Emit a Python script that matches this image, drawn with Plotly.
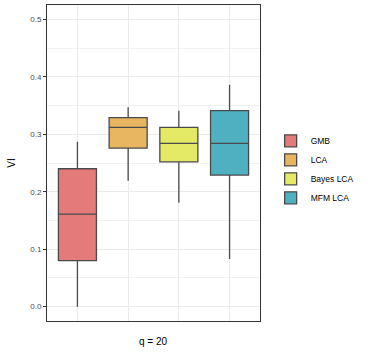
import plotly.graph_objects as go

methods = ["GMB", "LCA", "Bayes LCA", "MFM LCA"]
colors = ["#E57A7A", "#E8B660", "#E4E966", "#4FB0C2"]
positions = [1, 2, 3, 4]
lower = [0.000, 0.219, 0.181, 0.083]
q1 = [0.080, 0.276, 0.252, 0.229]
median = [0.161, 0.312, 0.284, 0.284]
q3 = [0.240, 0.329, 0.312, 0.341]
upper = [0.287, 0.347, 0.341, 0.386]

fig = go.Figure()
for i, m in enumerate(methods):
    fig.add_trace(go.Box(
        x=[positions[i]], q1=[q1[i]], median=[median[i]], q3=[q3[i]],
        lowerfence=[lower[i]], upperfence=[upper[i]],
        name=m, fillcolor=colors[i], width=0.75, whiskerwidth=0,
        line=dict(color="#4a4a4a", width=1.3), boxpoints=False))

fig.update_layout(
    width=368, height=354,
    margin=dict(l=47, r=108, t=5, b=33, autoexpand=False),
    plot_bgcolor="white", paper_bgcolor="white",
    font=dict(family="Liberation Sans, Arial", size=10, color="black"),
    legend=dict(x=1.05, xanchor="left", y=0.48, yanchor="middle",
                font=dict(size=8.5), tracegroupgap=0, itemwidth=30),
    xaxis=dict(range=[0.4, 4.6], tickvals=positions, showticklabels=False,
               ticks="", showgrid=True, gridcolor="#EBEBEB", gridwidth=1,
               zeroline=False, showline=True, linecolor="#333333", mirror=True,
               automargin=False),
    yaxis=dict(range=[-0.025, 0.525], tickvals=[0, 0.1, 0.2, 0.3, 0.4, 0.5],
               ticktext=["0.0", "0.1", "0.2", "0.3", "0.4", "0.5"],
               tickfont=dict(size=8, color="#4D4D4D"), ticks="outside",
               ticklen=3, tickcolor="#333333",
               showgrid=True, gridcolor="#EBEBEB", gridwidth=1,
               minor=dict(tickvals=[0.05, 0.15, 0.25, 0.35, 0.45],
                          showgrid=True, gridcolor="#F2F2F2", gridwidth=0.6),
               zeroline=False, showline=True, linecolor="#333333", mirror=True,
               automargin=False),
    annotations=[
        dict(text="VI", xref="paper", yref="paper", x=-0.17, y=0.5,
             textangle=-90, showarrow=False, font=dict(size=10),
             xanchor="center", yanchor="middle"),
        dict(text="q = 20", xref="paper", yref="paper", x=0.5, y=-0.065,
             showarrow=False, font=dict(size=10),
             xanchor="center", yanchor="middle"),
    ],
)

fig.write_html("out.html", config={"displayModeBar": False},
               post_script="document.body.style.margin='0';")
